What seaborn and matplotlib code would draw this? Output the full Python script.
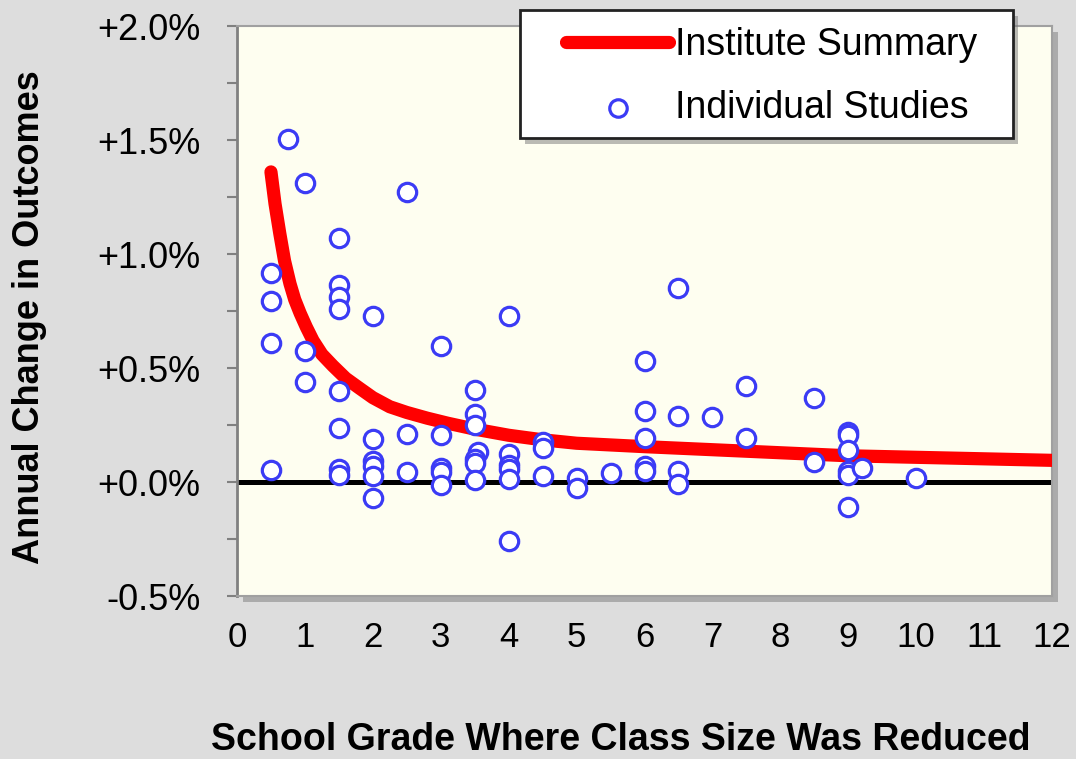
import matplotlib
matplotlib.use('Agg')
import matplotlib.pyplot as plt
import matplotlib.patheffects as pe
from matplotlib.patches import Rectangle
from matplotlib.ticker import MultipleLocator
import seaborn as sns
import pandas as pd

# individual studies (grade, annual change in %)
study_grade = [
    0.5, 0.5, 0.5, 0.5,
    0.75,
    1.0, 1.0, 1.0,
    1.5, 1.5, 1.5, 1.5, 1.5, 1.5, 1.5, 1.5,
    2.0, 2.0, 2.0, 2.0, 2.0, 2.0,
    2.5, 2.5, 2.5,
    3.0, 3.0, 3.0, 3.0, 3.0,
    3.5, 3.5, 3.5, 3.55, 3.5, 3.5, 3.5,
    4.0, 4.0, 4.0, 4.0, 4.0, 4.0,
    4.5, 4.5, 4.5,
    5.0, 5.0,
    5.5,
    6.0, 6.0, 6.0, 6.0, 6.0,
    6.5, 6.5, 6.5, 6.5,
    7.0,
    7.5, 7.5,
    8.5, 8.5,
    9.0, 9.0, 9.0, 9.0, 9.0, 9.0,
    9.2,
    10.0,
]
study_change = [
    0.915, 0.795, 0.61, 0.052,
    1.505,
    1.31, 0.575, 0.44,
    1.07, 0.865, 0.81, 0.76, 0.40, 0.235, 0.057, 0.03,
    0.73, 0.19, 0.09, 0.07, 0.026, -0.07,
    1.27, 0.21, 0.045,
    0.595, 0.205, 0.06, 0.045, -0.015,
    0.405, 0.30, 0.25, 0.13, 0.10, 0.085, 0.01,
    0.73, 0.125, 0.075, 0.055, 0.015, -0.26,
    0.175, 0.15, 0.026,
    0.017, -0.027,
    0.04,
    0.53, 0.31, 0.195, 0.07, 0.048,
    0.85, 0.29, 0.048, -0.01,
    0.285,
    0.42, 0.195,
    0.37, 0.087,
    0.22, 0.205, 0.14, 0.05, 0.03, -0.11,
    0.06,
    0.017,
]

# institute summary curve
summary_grade = [0.5, 0.56, 0.63, 0.7, 0.78, 0.85, 0.93, 1.02, 1.12, 1.25, 1.41, 1.6, 1.81,
                 2.0, 2.25, 2.5, 2.8, 3.1, 3.5, 4.0, 4.5, 5.0, 6.0, 7.5, 9.0, 10.5, 12.0]
summary_change = [1.36, 1.22, 1.09, 0.97, 0.87, 0.8, 0.74, 0.68, 0.62, 0.56, 0.51, 0.455, 0.41,
                  0.37, 0.33, 0.305, 0.28, 0.258, 0.232, 0.205, 0.185, 0.17, 0.155, 0.135,
                  0.115, 0.105, 0.095]

x_ticks = list(range(13))
y_ticks = [-0.5, 0.0, 0.5, 1.0, 1.5, 2.0]
y_tick_labels = ['-0.5%', '+0.0%', '+0.5%', '+1.0%', '+1.5%', '+2.0%']

sns.set_theme(style='white', rc={'figure.facecolor': '#dddddd', 'axes.facecolor': '#fefef0',
                                 'text.color': 'black', 'axes.labelcolor': 'black',
                                 'xtick.color': 'black', 'ytick.color': 'black'})
plt.rcParams['font.family'] = ['Liberation Sans', 'DejaVu Sans']

studies = pd.DataFrame({'grade': study_grade, 'change': study_change})
summary = pd.DataFrame({'grade': summary_grade, 'change': summary_change})

fig = plt.figure(figsize=(10.76, 7.59), dpi=100)
ax = fig.add_axes([237 / 1076, 1 - 596 / 759, 815 / 1076, 570 / 759])
ax.patch.set_path_effects([pe.SimplePatchShadow(offset=(4, -4), shadow_rgbFace='#8a8a8a', alpha=0.6),
                           pe.Normal()])

ax.axhline(0, color='black', lw=3.6, zorder=2)
sns.lineplot(data=summary, x='grade', y='change', ax=ax, color='#ff0000', lw=9.5,
             sort=False, estimator=None, label='Institute Summary', zorder=3,
             solid_capstyle='round')
sns.scatterplot(data=studies, x='grade', y='change', ax=ax, s=175, color='white',
                edgecolor='#3b3bf5', linewidth=2.3, label='Individual Studies', zorder=4)

ax.set_xlim(0, 12)
ax.set_ylim(-0.5, 2.0)
ax.set_xticks(x_ticks)
ax.set_xticklabels([str(t) for t in x_ticks], fontsize=25)
ax.tick_params(axis='x', length=0, pad=18, labelcolor='black')
ax.set_yticks(y_ticks)
ax.set_yticklabels(y_tick_labels, fontsize=26)
ax.yaxis.set_minor_locator(MultipleLocator(0.25))
ax.tick_params(axis='y', which='both', direction='out', left=True, length=7.2,
               width=1.5, color='#808080', labelcolor='black', pad=19)

for s in ax.spines.values():
    s.set_color('#a0a0a0')
    s.set_linewidth(1.5)
ax.spines['left'].set_color('#808080')
ax.spines['left'].set_linewidth(2)

ax.set_ylabel('Annual Change in Outcomes', fontsize=26, fontweight='bold', va='center')
ax.yaxis.set_label_coords(-0.255, 0.489)
ax.set_xlabel('School Grade Where Class Size Was Reduced', fontsize=27, fontweight='bold',
              va='center')
ax.xaxis.set_label_coords(0.471, -0.2526)

# legend box drawn by hand so its padding matches the original
box = Rectangle((0.347, 0.8035), 0.605, 0.2246, transform=ax.transAxes, clip_on=False,
                facecolor='white', edgecolor='#222222', lw=2, zorder=5)
box.set_path_effects([pe.SimplePatchShadow(offset=(4, -4), shadow_rgbFace='#777777', alpha=0.5),
                      pe.Normal()])
ax.add_patch(box)

leg = ax.legend(loc='upper left', bbox_to_anchor=(0.4037, 0.998), borderaxespad=0,
                borderpad=0, fontsize=27, frameon=False, handlelength=2.75,
                handletextpad=0.15, labelspacing=0.72, markerscale=0.95)
leg.set_zorder(6)
for h in leg.get_lines():
    h.set_solid_capstyle('round')

fig.savefig('out.png', dpi=100, facecolor=fig.get_facecolor())
